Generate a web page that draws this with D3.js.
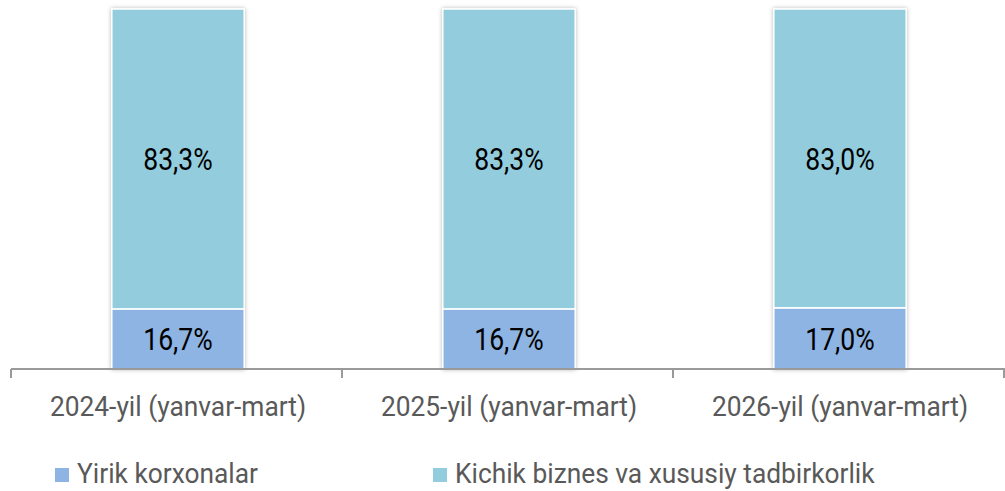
<!DOCTYPE html>
<html>
<head>
<meta charset="utf-8">
<script src="https://cdn.jsdelivr.net/npm/d3@7/dist/d3.min.js"></script>
<style>
  html, body { margin: 0; padding: 0; background: #ffffff; }
  svg { display: block; }
  text { font-family: Roboto, "Liberation Sans", sans-serif; }
</style>
</head>
<body>
<svg id="chart" width="1005" height="491"></svg>
<script>
// ---- data ----
const categories = ["2024-yil (yanvar-mart)", "2025-yil (yanvar-mart)", "2026-yil (yanvar-mart)"];
const seriesNames = ["Yirik korxonalar", "Kichik biznes va xususiy tadbirkorlik"];
const yirikValues = [16.7, 16.7, 17.0];
const kichikValues = [83.3, 83.3, 83.0];
const yirikLabels = ["16,7%", "16,7%", "17,0%"];
const kichikLabels = ["83,3%", "83,3%", "83,0%"];
const seriesColors = ["#8EB4E3", "#93CDDD"];

const CONDENSE_LABEL = 0.83;
const CONDENSE_GRAY = 0.94;

const svg = d3.select("#chart");
const defs = svg.append("defs");
const f = defs.append("filter").attr("id", "shadow")
  .attr("x", "-10%").attr("y", "-10%").attr("width", "120%").attr("height", "120%");
f.append("feDropShadow").attr("dx", 0).attr("dy", 0).attr("stdDeviation", 2.2)
  .attr("flood-color", "#000").attr("flood-opacity", 0.28);

const x = d3.scaleBand().domain(categories).range([11, 1004]).padding(0);
const y = d3.scaleLinear().domain([0, 100]).range([369, 9]);

const barW = x.bandwidth() * 0.4;
const barX = c => x(c) + (x.bandwidth() - barW) / 2 + 1.5;

const rows = categories.map((c, i) => ({
  cat: c,
  segs: [
    { s: 0, y0: 0, y1: yirikValues[i], label: yirikLabels[i] },
    { s: 1, y0: yirikValues[i], y1: yirikValues[i] + kichikValues[i], label: kichikLabels[i] }
  ]
}));

function condense(sel, factor) {
  sel.each(function () {
    const n = this.getComputedTextLength();
    d3.select(this).attr("textLength", n * factor).attr("lengthAdjust", "spacingAndGlyphs");
  });
}

// bars
const g = svg.append("g");
rows.forEach(r => {
  const bg = g.append("g").attr("filter", "url(#shadow)");
  bg.selectAll("rect").data(r.segs).join("rect")
    .attr("x", barX(r.cat))
    .attr("width", barW)
    .attr("y", d => y(d.y1))
    .attr("height", d => y(d.y0) - y(d.y1))
    .attr("fill", d => seriesColors[d.s])
    .attr("stroke", "#ffffff")
    .attr("stroke-width", 1.5);
});

// data labels
rows.forEach(r => {
  g.selectAll(null).data(r.segs).join("text")
    .attr("x", barX(r.cat) + barW / 2)
    .attr("y", d => (y(d.y0) + y(d.y1)) / 2)
    .attr("dy", "0.355em")
    .attr("text-anchor", "middle")
    .attr("font-size", 32)
    .attr("fill", "#000000")
    .text(d => d.label)
    .call(condense, CONDENSE_LABEL);
});

// axis
const axis = svg.append("g").attr("transform", `translate(0,${y(0)})`)
  .call(d3.axisBottom(x).tickSize(0).tickSizeOuter(0));
axis.select(".domain").attr("stroke", "#9a9a9a").attr("stroke-width", 2)
  .attr("d", `M${x.range()[0]},0H1005`);
axis.selectAll(".tick text")
  .attr("font-family", "Roboto, sans-serif")
  .attr("font-size", 28)
  .attr("fill", "#595959")
  .attr("dy", "0")
  .attr("y", 47)
  .attr("dx", 1.5)
  .call(condense, CONDENSE_GRAY);
const bounds = categories.map(c => x(c)).concat([x.range()[1]]);
axis.selectAll(".bound").data(bounds).join("line")
  .attr("class", "bound")
  .attr("x1", d => d).attr("x2", d => d)
  .attr("y1", 0).attr("y2", 9)
  .attr("stroke", "#9a9a9a").attr("stroke-width", 2);

// legend
const legendX = [55, 433];
const legend = svg.append("g").attr("transform", "translate(0,483)");
seriesNames.forEach((name, i) => {
  legend.append("rect")
    .attr("x", legendX[i]).attr("y", -15)
    .attr("width", 14).attr("height", 14)
    .attr("fill", seriesColors[i]);
  legend.append("text")
    .attr("x", legendX[i] + 22).attr("y", 0)
    .attr("font-size", 28)
    .attr("fill", "#595959")
    .text(name)
    .call(condense, CONDENSE_GRAY);
});
</script>
</body>
</html>
